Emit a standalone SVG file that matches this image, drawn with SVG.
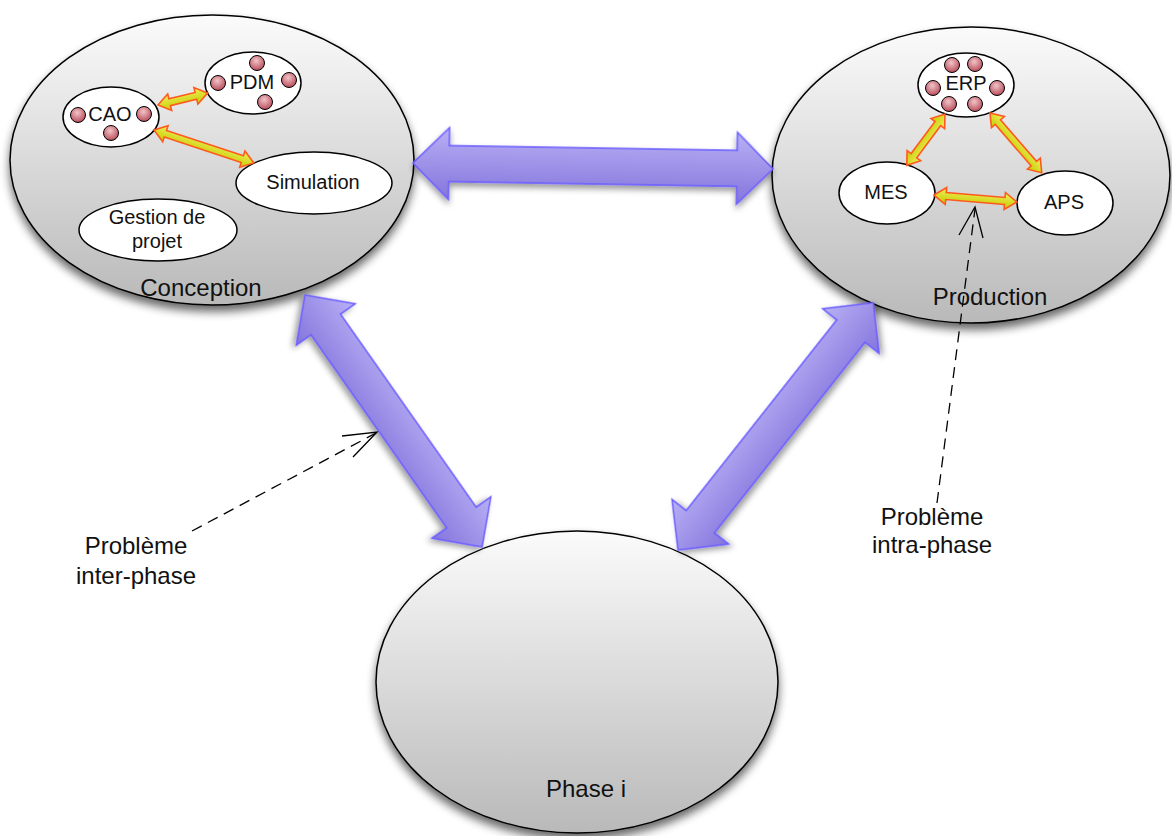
<svg xmlns="http://www.w3.org/2000/svg" width="1172" height="836" viewBox="0 0 1172 836">
  <defs>
    <linearGradient id="gPhase" x1="0" y1="0" x2="0" y2="1">
      <stop offset="0" stop-color="#fbfbfb"/>
      <stop offset="1" stop-color="#b9b9b9"/>
    </linearGradient>
    <linearGradient id="gBig" x1="0" y1="0" x2="0" y2="1">
      <stop offset="0" stop-color="#b8b0f4"/>
      <stop offset="1" stop-color="#8474dc"/>
    </linearGradient>
    <linearGradient id="gSmall" x1="0" y1="0" x2="0" y2="1">
      <stop offset="0" stop-color="#eef05a"/>
      <stop offset="1" stop-color="#c6ca00"/>
    </linearGradient>
    <radialGradient id="gDot" cx="0.45" cy="0.35" r="0.65">
      <stop offset="0" stop-color="#f2c4c8"/>
      <stop offset="1" stop-color="#b84c5a"/>
    </radialGradient>
    <filter id="shadow" x="-20%" y="-20%" width="140%" height="150%">
      <feGaussianBlur in="SourceAlpha" stdDeviation="5"/>
      <feOffset dx="0" dy="6" result="b"/>
      <feComponentTransfer><feFuncA type="linear" slope="0.6"/></feComponentTransfer>
      <feMerge><feMergeNode/><feMergeNode in="SourceGraphic"/></feMerge>
    </filter>
    <filter id="shadowS" x="-20%" y="-50%" width="140%" height="200%">
      <feGaussianBlur in="SourceAlpha" stdDeviation="3"/>
      <feOffset dx="0" dy="4" result="b"/>
      <feComponentTransfer><feFuncA type="linear" slope="0.4"/></feComponentTransfer>
      <feMerge><feMergeNode/><feMergeNode in="SourceGraphic"/></feMerge>
    </filter>
  </defs>
  <style>
    .phase { fill: url(#gPhase); stroke: #000; stroke-width: 1.5; filter: url(#shadow); }
    .tool { fill: #fff; stroke: #000; stroke-width: 1.5; }
    .dot { fill: url(#gDot); stroke: #000; stroke-width: 1; }
    .big { fill: url(#gBig); stroke: #6a5cff; stroke-width: 1.5; stroke-linejoin: miter; filter: url(#shadowS); }
    .small { fill: url(#gSmall); stroke: #ff5a1e; stroke-width: 1.6; stroke-linejoin: miter; }
    .dash { fill: none; stroke: #000; stroke-width: 1.3; stroke-dasharray: 11 7; }
    .head { fill: none; stroke: #000; stroke-width: 1.3; }
    text { font-family: "Liberation Sans", Arial, Helvetica, sans-serif; fill: #111; text-anchor: middle; }
    .lbl { font-size: 20px; }
    .big-lbl { font-size: 24px; }
  </style>

  <g id="phase-conception">
    <ellipse class="phase" cx="212" cy="160" rx="202" ry="145"/>
    <text class="big-lbl" x="201" y="296">Conception</text>
  </g>
  <g id="phase-production">
    <ellipse class="phase" cx="971" cy="175" rx="199" ry="148"/>
    <text class="big-lbl" x="990" y="305">Production</text>
  </g>
  <g id="phase-i">
    <ellipse class="phase" cx="577" cy="682" rx="201" ry="151"/>
    <text class="big-lbl" x="586" y="797">Phase i</text>
  </g>

  <g id="cao">
    <ellipse class="tool" cx="111" cy="117" rx="48" ry="30"/>
    <circle class="dot" cx="78" cy="115" r="7.5"/>
    <circle class="dot" cx="144" cy="114" r="7.5"/>
    <circle class="dot" cx="111" cy="133" r="7.5"/>
    <text class="lbl" x="110" y="121">CAO</text>
  </g>
  <g id="pdm">
    <ellipse class="tool" cx="253" cy="83" rx="48" ry="31"/>
    <circle class="dot" cx="257" cy="63" r="7.5"/>
    <circle class="dot" cx="218" cy="83" r="7.5"/>
    <circle class="dot" cx="289" cy="80" r="7.5"/>
    <circle class="dot" cx="265" cy="102" r="7.5"/>
    <text class="lbl" x="252" y="89">PDM</text>
  </g>
  <g id="simulation">
    <ellipse class="tool" cx="314" cy="183" rx="78" ry="31"/>
    <text class="lbl" x="313" y="189">Simulation</text>
  </g>
  <g id="gestion">
    <ellipse class="tool" cx="158" cy="230" rx="79" ry="31"/>
    <text class="lbl" x="157" y="224">Gestion de</text>
    <text class="lbl" x="157" y="248">projet</text>
  </g>

  <g id="erp">
    <ellipse class="tool" cx="966" cy="85" rx="48" ry="32"/>
    <circle class="dot" cx="952" cy="65" r="7.5"/>
    <circle class="dot" cx="975" cy="64" r="7.5"/>
    <circle class="dot" cx="933" cy="88" r="7.5"/>
    <circle class="dot" cx="997" cy="88" r="7.5"/>
    <circle class="dot" cx="949" cy="104" r="7.5"/>
    <circle class="dot" cx="975" cy="104" r="7.5"/>
    <text class="lbl" x="966" y="90">ERP</text>
  </g>
  <g id="mes">
    <ellipse class="tool" cx="887" cy="193" rx="48" ry="31"/>
    <text class="lbl" x="886" y="199">MES</text>
  </g>
  <g id="aps">
    <ellipse class="tool" cx="1065" cy="203" rx="48" ry="32"/>
    <text class="lbl" x="1064" y="209">APS</text>
  </g>

  <g id="annot-inter">
    <text class="big-lbl" x="136" y="554">Problème</text>
    <text class="big-lbl" x="136" y="584">inter-phase</text>
  </g>
  <g id="annot-intra">
    <text class="big-lbl" x="932" y="525">Problème</text>
    <text class="big-lbl" x="932" y="553">intra-phase</text>
  </g>

  <g id="connectors">
    <polygon class="big" transform="translate(413,163) rotate(0.95)" points="0,0 36,-36 36,-18 324,-18 324,-36 360,0 324,36 324,18 36,18 36,36"/>
    <polygon class="big" transform="translate(305,295) rotate(54.9)" points="0,0 36,-36 36,-18 272,-18 272,-36 308,0 272,36 272,18 36,18 36,36"/>
    <polygon class="big" transform="translate(678,550) rotate(-51.7)" points="0,0 36,-36 36,-18 279,-18 279,-36 315,0 279,36 279,18 36,18 36,36"/>

    <polygon class="small" transform="translate(158,105) rotate(-13.5)" points="0,0 12,-8.5 12,-3.5 39,-3.5 39,-8.5 51,0 39,8.5 39,3.5 12,3.5 12,8.5"/>
    <polygon class="small" transform="translate(154,130) rotate(18.26)" points="0,0 12,-8.5 12,-3.5 93,-3.5 93,-8.5 105,0 93,8.5 93,3.5 12,3.5 12,8.5"/>
    <polygon class="small" transform="translate(945,114) rotate(126.7)" points="0,0 12,-8.5 12,-3.5 52,-3.5 52,-8.5 64,0 52,8.5 52,3.5 12,3.5 12,8.5"/>
    <polygon class="small" transform="translate(990,113) rotate(49.1)" points="0,0 12,-8.5 12,-3.5 67,-3.5 67,-8.5 79,0 67,8.5 67,3.5 12,3.5 12,8.5"/>
    <polygon class="small" transform="translate(934,195) rotate(4.82)" points="0,0 12,-8.5 12,-3.5 71,-3.5 71,-8.5 83,0 71,8.5 71,3.5 12,3.5 12,8.5"/>

    <line class="dash" x1="192" y1="531" x2="376" y2="433"/>
    <polyline class="head" points="342,436 377,432 353,457"/>
    <line class="dash" x1="937" y1="503" x2="975" y2="209"/>
    <polyline class="head" points="959,235 975,207 983,238"/>
  </g>
</svg>
